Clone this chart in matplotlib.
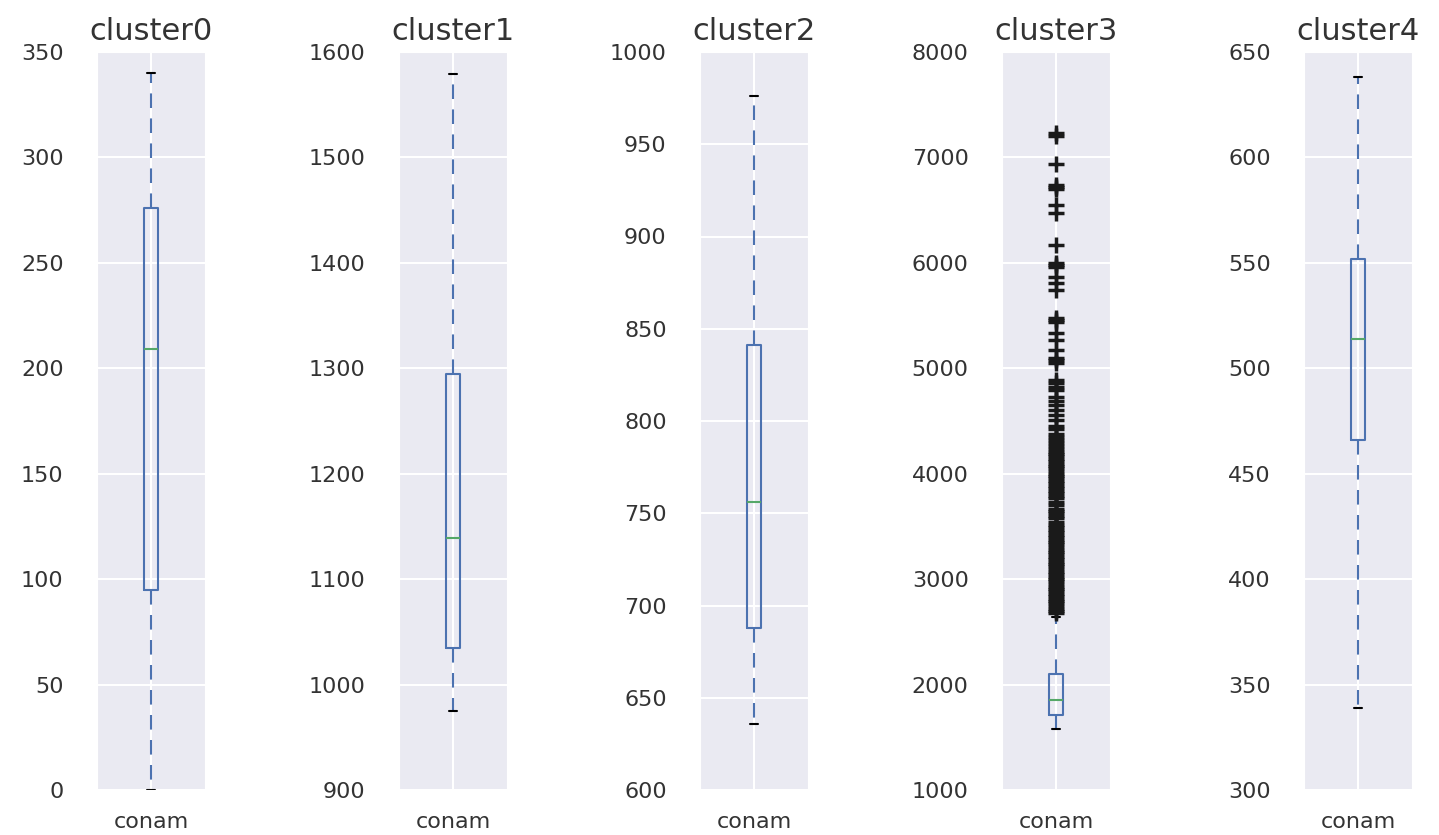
import numpy as np
import matplotlib
matplotlib.use("Agg")
import matplotlib.pyplot as plt
import seaborn as sns

# box statistics
names = ["cluster0", "cluster1", "cluster2", "cluster3", "cluster4"]
whislo = [0, 975, 636, 1579, 339]
q1 = [95, 1035, 688, 1712, 466]
med = [209, 1139, 756, 1854, 514]
q3 = [276, 1295, 841, 2101, 552]
whishi = [340, 1579, 976, 2641, 638]
ylims = [(0, 350), (900, 1600), (600, 1000), (1000, 8000), (300, 650)]
ysteps = [50, 100, 50, 1000, 50]

# outliers of cluster3 (only cluster with fliers)
fliers3 = [2680, 2700, 2720, 2745, 2770, 2790, 2815, 2840, 2860, 2885,
           2910, 2930, 2955, 2980, 3000, 3025, 3050, 3070, 3095, 3120,
           3140, 3165, 3190, 3210, 3235, 3260, 3280, 3305, 3330, 3350,
           3375, 3400, 3420, 3445, 3470, 3490, 3515, 3540, 3580, 3600,
           3625, 3650, 3670, 3700, 3730, 3770, 3790, 3815, 3840, 3860,
           3885, 3910, 3930, 3955, 3980, 4000, 4025, 4050, 4070, 4095,
           4120, 4140, 4165, 4190, 4210, 4235, 4260, 4290, 4320, 4350,
           4380, 4420, 4450, 4510, 4560, 4605, 4650, 4690, 4730, 4790,
           4824, 4860, 4890, 5050, 5080, 5100, 5175, 5270, 5336, 5440,
           5459, 5480, 5744, 5810, 5867, 5960, 5981, 6000, 6171, 6474,
           6550, 6700, 6721, 6740, 6939, 7200, 7230]
fliers = [[], [], [], fliers3, []]

sns.set_style("darkgrid")
plt.rcParams['font.family'] = ['DejaVu Sans']

fig = plt.figure(figsize=(14.39, 8.35), dpi=100)

blue = "#4C72B0"
green = "#55A868"
txt = "#333333"
lefts = [97, 399, 700, 1002, 1304]

for i in range(5):
    ax = fig.add_axes([lefts[i] / 1439, 45 / 835, 108 / 1439, 738 / 835])
    stats = [dict(whislo=whislo[i], q1=q1[i], med=med[i], q3=q3[i],
                  whishi=whishi[i], fliers=fliers[i], label="conam")]
    ax.bxp(stats, positions=[1], widths=0.13, showfliers=True,
           boxprops=dict(color=blue, linewidth=1.5),
           medianprops=dict(color=green, linewidth=1.5),
           whiskerprops=dict(color=blue, linewidth=1.5, linestyle=(0, (7, 5))),
           capprops=dict(color="black", linewidth=1.5),
           flierprops=dict(marker="+", markeredgecolor="#1a1a1a",
                           markersize=12, markeredgewidth=2.5, linestyle="none"))
    ax.set_xlim(0.5, 1.5)
    ax.set_ylim(*ylims[i])
    ax.set_yticks(np.arange(ylims[i][0], ylims[i][1] + 1, ysteps[i]))
    ax.set_title(names[i], fontsize=22, color=txt, pad=9)
    ax.tick_params(axis="both", labelsize=16, colors=txt, length=0)
    ax.tick_params(axis="y", pad=24)
    ax.tick_params(axis="x", pad=16)
    ax.grid(True, color="white", linewidth=1.5)

fig.savefig("out.png", dpi=100)
